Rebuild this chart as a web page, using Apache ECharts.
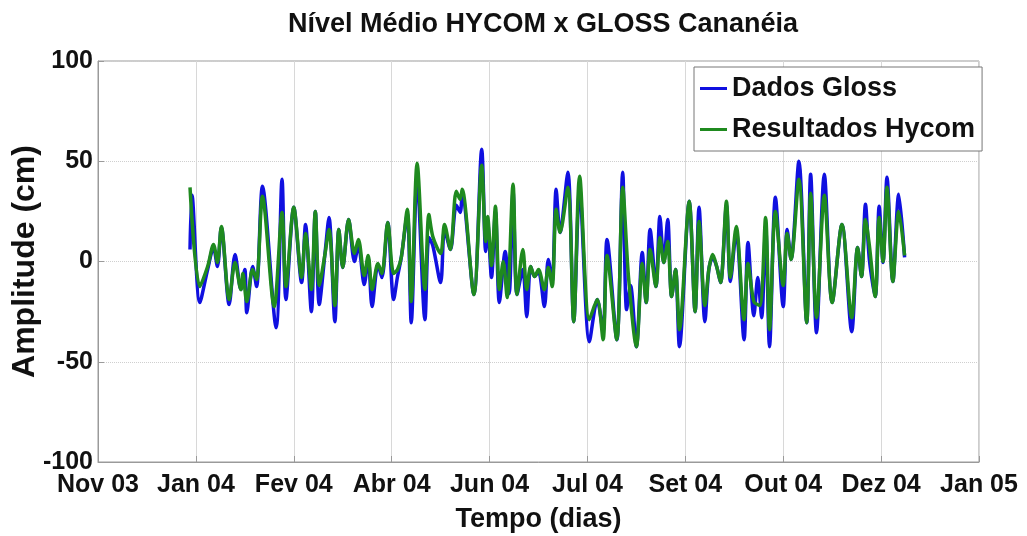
<!DOCTYPE html>
<html>
<head>
<meta charset="utf-8">
<script src="https://cdn.jsdelivr.net/npm/echarts@6/dist/echarts.min.js"></script>
<style>
html,body{margin:0;padding:0;background:#fff;}
#chart{width:1027px;height:536px;}
</style>
</head>
<body>
<div id="chart"></div>
<script>
// Tick labels of the time axis (evenly spaced ticks, 50 days apart)
var xTickLabels = ['Nov 03','Jan 04','Fev 04','Abr 04','Jun 04','Jul 04','Set 04','Out 04','Dez 04','Jan 05'];
var tickDays = 50;
var recordStartDay = 47; // day of first record, counted from the "Nov 03" tick

// Dados Gloss (day of record, cm)
var glossDays = [0,1,5,9,12,14,16,20,23,26,28,29,32,34,37,44,47,49,53,57,59,62,64,66,69,71,74,76,78,81,84,86,89,91,93,96,98,101,104,106,108,111,113,116,120,122,124,128,130,133,136,138,139,145,149,151,152,154,156,158,161,163,165,167,170,172,174,176,178,181,183,185,187,189,193,196,199,204,208,211,213,218,221,223,225,228,231,233,235,238,240,242,244,246,248,250,255,258,260,263,265,267,269,271,274,276,279,283,285,288,290,292,294,296,299,303,305,307,311,315,317,320,324,328,333,338,341,343,345,347,350,352,354,356,359,362,365];
var glossVals = [6,33,-20.5,-4,7,-2.5,17,-21.5,3.5,-14,-4,-25.5,-2.5,-12.5,37.5,-33,41,-19,27,-10.5,18.5,-25,25,-21.5,4.5,22,-30,16,-3,21,0,8,-11.5,2,-22.5,-1.5,-8,19.5,-19,-7.5,2.5,24,-30.5,42,-29,12,8,-10.5,16,6,28,24.5,33,-16.5,56,5,20,-8,25,-20.5,5,-16,35,-16.5,-4,-27.5,-2.5,-7.5,-5,-22.5,1,-10,36,14.5,44.5,-30,36,-40,-19,-35,11,-39,44.5,-24,-12,-42.5,4.5,-20.5,16,-12.5,22.5,-0.5,21,-17.5,-4,-42.5,30,-25,27,-30,-4,2,-2.5,-10.5,28,-10,15,-39,9.5,-27,-8,-28,18,-42.5,32,-22.5,16,1,50,-30.5,43.5,-35.5,43.5,-20.5,18.5,-35,7,-7.5,28.5,1,-17.5,27.5,-0.5,42,-10,33.5,2];

// Resultados Hycom (day of record, cm)
var hycomDays = [0,5,9,12,14,16,20,23,26,27,29,32,34,37,43,47,49,53,57,59,62,64,66,69,71,74,76,78,81,84,86,89,91,93,96,98,101,104,106,108,111,113,116,120,122,124,128,130,133,136,138,139,145,149,151,152,154,156,158,160,162,165,167,170,172,174,176,178,181,183,185,187,189,193,196,199,204,208,211,213,218,221,224,228,231,233,235,238,240,242,244,246,248,250,255,258,260,263,265,267,269,271,274,276,279,283,285,288,291,294,296,299,303,305,307,311,315,317,320,324,328,333,338,341,343,345,347,350,352,354,356,359,362,365];
var hycomVals = [37,-12.5,-2.5,8.5,-0.5,17.5,-19,-0.5,-14,-6,-20,-4,-9,32.5,-22.5,24.5,-12.5,27,-8,14,-14,25,-12,4,16,-22,16,-3,21,4,11,-7,3,-14,-1,-6,19.5,-6,-4,2.5,26,-20,49,-14,23.5,12.5,4,18.5,6,35,31,36,-16.5,48,10,22.5,-2,27.5,-14,0,-18,38.5,-16.5,6,-14,-2.5,-7.5,-4,-14,-3,-12.5,26,14.5,37,-30,42.5,-29,-19,-39,3,-39,37,-8,-42.5,-1,-20.5,6,-12.5,12,-0.5,10,-17.5,-4,-34,30,-25,20,-22,-4,3.5,-2.5,-10.5,30,-8,17.5,-29,-1,-20,-22,22,-34,25,-12,14,1,41,-30.5,34,-28,33,-20.5,18.5,-28,7,-7.5,21,8,-17.5,22,0,37,-10,25,3];

function pairs(days, vals){
  var out = [];
  for (var i = 0; i < days.length; i++) out.push([recordStartDay + days[i], vals[i]]);
  return out;
}

var FONT = '"Liberation Sans", Arial, sans-serif';
var chart = echarts.init(document.getElementById('chart'), null, {renderer:'canvas'});
chart.setOption({
  animation: false,
  backgroundColor: '#ffffff',
  title: {
    text: 'Nível Médio HYCOM x GLOSS Cananéia',
    left: 283,
    top: 6,
    textStyle: {fontFamily: FONT, fontWeight: 'bold', fontSize: 27, color: '#111'}
  },
  legend: {
    orient: 'vertical',
    left: 694,
    top: 67,
    data: ['Dados Gloss', 'Resultados Hycom'],
    icon: 'rect',
    itemWidth: 27,
    itemHeight: 3,
    itemGap: 14,
    padding: [8, 7, 8, 6],
    borderColor: '#777',
    borderWidth: 1,
    backgroundColor: '#fff',
    textStyle: {fontFamily: FONT, fontWeight: 'bold', fontSize: 27, color: '#111'}
  },
  grid: {
    left: 98, right: 48, top: 61, bottom: 74,
    outerBoundsMode: 'none',
    show: true, borderColor: '#9a9a9a', borderWidth: 1, backgroundColor: 'transparent',
    containLabel: false
  },
  xAxis: {
    type: 'value',
    min: 0,
    max: tickDays * (xTickLabels.length - 1),
    interval: tickDays,
    name: 'Tempo (dias)',
    nameLocation: 'middle',
    nameGap: 44,
    nameTextStyle: {fontFamily: FONT, fontWeight: 'bold', fontSize: 27, color: '#111'},
    axisLine: {show: true, onZero: false, lineStyle: {color: '#9a9a9a'}},
    axisTick: {show: true, inside: true, length: 6, lineStyle: {color: '#9a9a9a'}},
    axisLabel: {
      fontFamily: FONT, fontWeight: 'bold', fontSize: 25, color: '#111', margin: 11,
      formatter: function(v){ return xTickLabels[Math.round(v / tickDays)] || ''; }
    },
    splitLine: {show: true, lineStyle: {color: '#d8d8d8', type: 'solid', width: 1}}
  },
  yAxis: {
    type: 'value',
    min: -100, max: 100, interval: 50,
    name: 'Amplitude (cm)',
    nameLocation: 'middle',
    nameGap: 57,
    nameMoveOverlap: false,
    nameTextStyle: {fontFamily: FONT, fontWeight: 'bold', fontSize: 32, color: '#111'},
    axisLine: {show: true, onZero: false, lineStyle: {color: '#9a9a9a'}},
    axisTick: {show: true, inside: true, length: 6, lineStyle: {color: '#9a9a9a'}},
    axisLabel: {fontFamily: FONT, fontWeight: 'bold', fontSize: 25, color: '#111', margin: 5},
    splitLine: {show: true, lineStyle: {color: '#cfcfcf', type: 'dotted', width: 1}}
  },
  series: [
    {
      name: 'Dados Gloss', type: 'line', data: pairs(glossDays, glossVals),
      showSymbol: false, symbol: 'none', smooth: 0.3,
      lineStyle: {color: '#1010e0', width: 3.5}, itemStyle: {color: '#1010e0'}
    },
    {
      name: 'Resultados Hycom', type: 'line', data: pairs(hycomDays, hycomVals),
      showSymbol: false, symbol: 'none', smooth: 0.3,
      lineStyle: {color: '#1f8a1f', width: 3.5}, itemStyle: {color: '#1f8a1f'}
    }
  ]
});
</script>
</body>
</html>
